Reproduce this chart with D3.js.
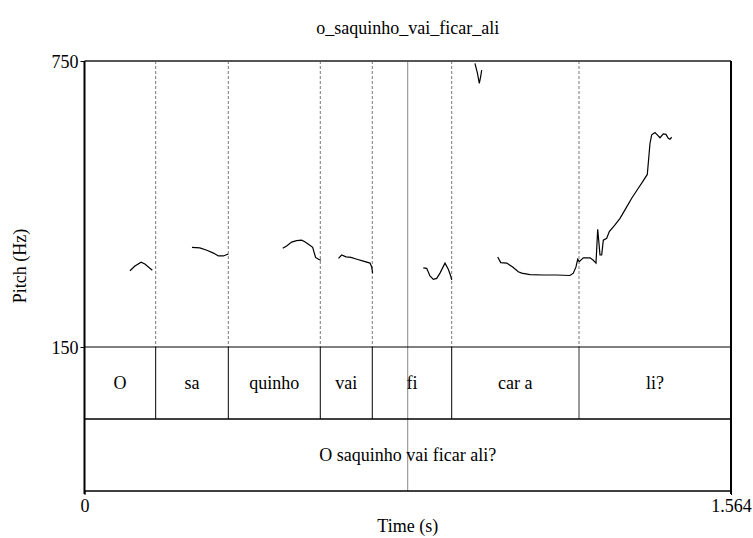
<!DOCTYPE html>
<html>
<head>
<meta charset="utf-8">
<script src="https://cdn.jsdelivr.net/npm/d3@7"></script>
<style>
  html, body { margin: 0; padding: 0; background: #fff; }
  svg { display: block; }
  svg text { font-family: "Liberation Serif", "Times New Roman", Times, serif; }
</style>
</head>
<body>
<svg id="chart" width="753" height="538"></svg>
<script>
// Pitch contour (voiced stretches), time in seconds and F0 in Hz
const contourTimes = [
  [0.110, 0.122, 0.137, 0.146, 0.164],
  [0.260, 0.279, 0.296, 0.312, 0.324, 0.336, 0.348],
  [0.4795, 0.489, 0.501, 0.513, 0.525, 0.533, 0.541, 0.552, 0.556, 0.559, 0.566, 0.572],
  [0.6145, 0.622, 0.6326, 0.6446, 0.659, 0.6745, 0.6907, 0.6948, 0.697],
  [0.8196, 0.8278, 0.8358, 0.8438, 0.8520, 0.860, 0.8721, 0.8801, 0.8859, 0.8883],
  [0.9446, 0.9507, 0.9551, 0.9584, 0.9609],
  [0.9996, 1.0069, 1.0214, 1.0359, 1.0494, 1.0577, 1.0777, 1.1099, 1.1423, 1.1745, 1.1825,
   1.1890, 1.1931, 1.1970, 1.2067, 1.2229, 1.2309, 1.2374, 1.2415, 1.2471, 1.2512, 1.2551,
   1.2633, 1.2696, 1.2834, 1.2955, 1.3117, 1.3238, 1.3397, 1.3504, 1.3615, 1.3680, 1.3721,
   1.3801, 1.3857, 1.3922, 1.4002, 1.4067, 1.4123, 1.4164, 1.4205]
];
const contourHz = [
  [310, 320, 328, 324, 311],
  [359, 358, 353, 347, 341, 341, 345],
  [357, 362, 370, 373, 374, 371, 366, 359, 347, 338, 334, 332],
  [336, 343, 339, 338, 334, 330, 326, 318, 305],
  [316, 315, 299, 292, 294, 305, 326, 313, 299, 291],
  [745, 724, 703, 717, 731],
  [339, 327, 326, 318, 308, 305, 302, 301, 301, 300, 305,
   318, 334, 329, 337, 337, 332, 326, 397, 343, 343, 374,
   378, 392, 406, 420, 444, 462, 483, 497, 512, 577, 595,
   600, 595, 589, 597, 596, 588, 586, 590]
];

// Syllable tier
const sylBounds = [0, 0.1722, 0.3479, 0.5704, 0.6962, 0.8883, 1.1963, 1.564];
const sylLabels = ["O", "sa", "quinho", "vai", "fi", "car a", "li?"];
// Sentence tier
const sentBounds = [0, 1.564];
const sentLabels = ["O saquinho vai ficar ali?"];
// Marked time point
const markTimes = [0.7819];

const title = "o_saquinho_vai_ficar_ali";
const timeDomain = [0, 1.564];
const pitchDomain = [150, 750];
const pitchTicks = [150, 750];
const timeTicks = [0, 1.564];

const FONT = "Liberation Serif, Times New Roman, Times, serif";
const FS = 18;

const svg = d3.select("#chart");
const plotL = 84.5, plotR = 731, plotT = 61, pitchBottom = 347, tierH = 72;
const plotB = pitchBottom + 2 * tierH;

const x = d3.scaleLinear().domain(timeDomain).range([plotL, plotR]);
const y = d3.scaleLinear().domain(pitchDomain).range([pitchBottom, plotT]);

function label(sel) {
  return sel.attr("font-family", FONT).attr("font-size", FS).attr("fill", "#000");
}

// Title
svg.append("text").attr("x", (plotL + plotR) / 2).attr("y", 34)
  .attr("text-anchor", "middle").call(label).text(title);

// Boundary guides through the pitch area
const inner = sylBounds.slice(1, -1);
svg.append("g").selectAll("line").data(inner).join("line")
  .attr("x1", d => x(d)).attr("x2", d => x(d))
  .attr("y1", plotT).attr("y2", pitchBottom)
  .attr("stroke", "#777").attr("stroke-width", 1)
  .attr("stroke-dasharray", "3,2");

// Syllable tier boundaries
svg.append("g").selectAll("line").data(inner).join("line")
  .attr("x1", d => x(d)).attr("x2", d => x(d))
  .attr("y1", pitchBottom).attr("y2", pitchBottom + tierH)
  .attr("stroke", (d, i) => i === inner.length - 1 ? "#777" : "#000")
  .attr("stroke-width", (d, i) => i === inner.length - 1 ? 1.5 : 1);

// Marked time point across everything
svg.append("g").selectAll("line").data(markTimes).join("line")
  .attr("x1", d => x(d)).attr("x2", d => x(d))
  .attr("y1", plotT).attr("y2", plotB)
  .attr("stroke", "#888").attr("stroke-width", 1);

// Tier separators
svg.append("line").attr("x1", plotL).attr("x2", plotR)
  .attr("y1", pitchBottom).attr("y2", pitchBottom).attr("stroke", "#000").attr("stroke-width", 1);
svg.append("line").attr("x1", plotL).attr("x2", plotR)
  .attr("y1", pitchBottom + tierH).attr("y2", pitchBottom + tierH).attr("stroke", "#000").attr("stroke-width", 1.5);

// Tier labels
svg.append("g").selectAll("text").data(sylLabels).join("text")
  .attr("x", (d, i) => (x(sylBounds[i]) + x(sylBounds[i + 1])) / 2)
  .attr("y", pitchBottom + tierH / 2 + 6)
  .attr("text-anchor", "middle").call(label).text(d => d);
svg.append("g").selectAll("text").data(sentLabels).join("text")
  .attr("x", (d, i) => (x(sentBounds[i]) + x(sentBounds[i + 1])) / 2)
  .attr("y", pitchBottom + tierH * 1.5 + 6)
  .attr("text-anchor", "middle").call(label).text(d => d);

// Pitch contour
const line = d3.line().x(d => x(d[0])).y(d => y(d[1]));
svg.append("g").selectAll("path")
  .data(contourTimes.map((ts, i) => ts.map((t, j) => [t, contourHz[i][j]])))
  .join("path")
  .attr("d", line).attr("fill", "none").attr("stroke", "#000").attr("stroke-width", 1.2);

// Frame
svg.append("line").attr("x1", plotL).attr("x2", plotR).attr("y1", plotT).attr("y2", plotT)
  .attr("stroke", "#555").attr("stroke-width", 2);
svg.append("line").attr("x1", plotL).attr("x2", plotR).attr("y1", plotB).attr("y2", plotB)
  .attr("stroke", "#000").attr("stroke-width", 1.5);
svg.append("line").attr("x1", plotR).attr("x2", plotR).attr("y1", plotT).attr("y2", plotB + 3)
  .attr("stroke", "#000").attr("stroke-width", 2);

// Pitch axis
const yAxis = d3.axisLeft(y).tickValues(pitchTicks).tickSize(4).tickPadding(2)
  .tickFormat(d3.format("d"));
const gy = svg.append("g").attr("transform", `translate(${plotL},0)`).call(yAxis)
  .attr("font-family", FONT).attr("font-size", FS);
gy.select(".domain").remove();
gy.selectAll(".tick line").attr("stroke", "#000");
gy.selectAll(".tick text").call(label).attr("dy", "0.35em");
svg.append("line").attr("x1", plotL).attr("x2", plotL).attr("y1", plotT).attr("y2", plotB + 3)
  .attr("stroke", "#000").attr("stroke-width", 2);

// Time axis
const xAxis = d3.axisBottom(x).tickValues(timeTicks).tickSize(4).tickPadding(4)
  .tickFormat(d => d === 0 ? "0" : d3.format(".3f")(d));
const gx = svg.append("g").attr("transform", `translate(0,${plotB})`).call(xAxis)
  .attr("font-family", FONT).attr("font-size", FS);
gx.select(".domain").remove();
gx.selectAll(".tick line").attr("stroke", "#000");
gx.selectAll(".tick text").call(label);

// Axis titles
svg.append("text").attr("x", (plotL + plotR) / 2).attr("y", 532)
  .attr("text-anchor", "middle").call(label).text("Time (s)");
svg.append("text").attr("transform", "translate(26,266) rotate(-90)")
  .attr("text-anchor", "middle").call(label).text("Pitch (Hz)");
</script>
</body>
</html>
